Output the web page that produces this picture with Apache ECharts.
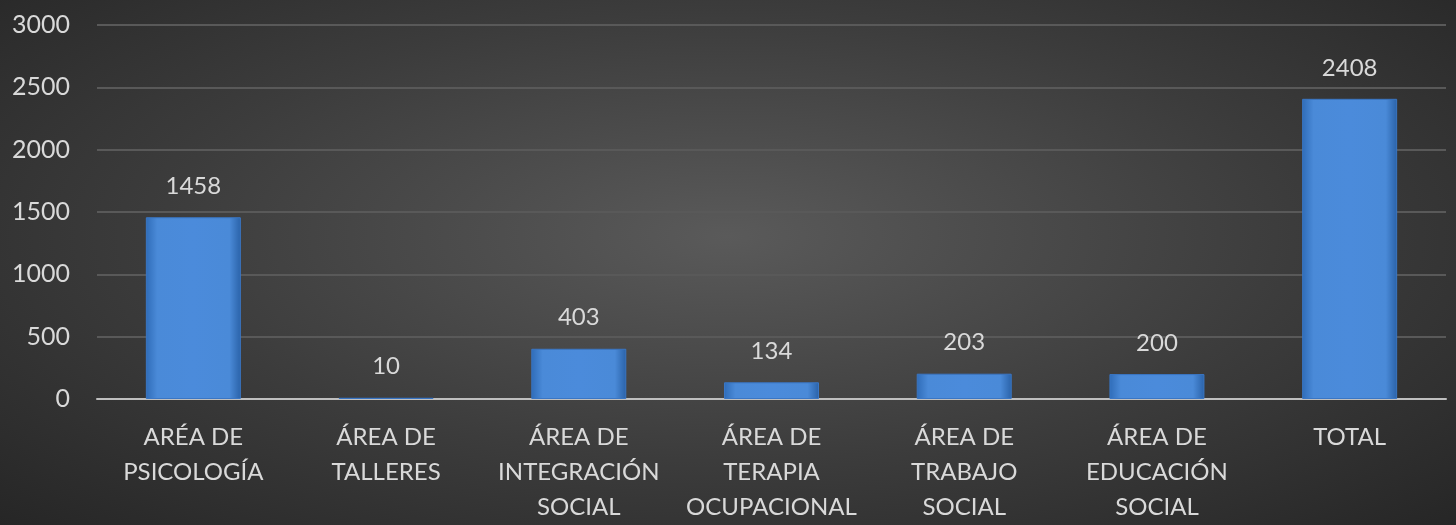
<!DOCTYPE html>
<html>
<head>
<meta charset="utf-8">
<script src="https://cdn.jsdelivr.net/npm/echarts@6/dist/echarts.min.js"></script>
<style>
  html, body { margin: 0; padding: 0; }
  #chart {
    width: 1456px;
    height: 525px;
    background: radial-gradient(ellipse at 50% 45%, #5a5a5a 0%, #3c3c3c 55%, #262626 100%);
  }
</style>
</head>
<body>
<div id="chart"></div>
<script>
  const categories = [
    "ARÉA DE\nPSICOLOGÍA",
    "ÁREA DE\nTALLERES",
    "ÁREA DE\nINTEGRACIÓN\nSOCIAL",
    "ÁREA DE\nTERAPIA\nOCUPACIONAL",
    "ÁREA DE\nTRABAJO\nSOCIAL",
    "ÁREA DE\nEDUCACIÓN\nSOCIAL",
    "TOTAL"
  ];
  const values = [1458, 10, 403, 134, 203, 200, 2408];

  const chart = echarts.init(document.getElementById("chart"));

  const option = {
    backgroundColor: "transparent",
    textStyle: { fontFamily: "Lato" },
    grid: { left: 97, right: 10, top: 25, bottom: 125 },
    xAxis: {
      type: "category",
      data: categories,
      axisLine: { lineStyle: { color: "#bfbfbf", width: 2 } },
      axisTick: { show: false },
      axisLabel: {
        color: "#d9d9d9",
        fontSize: 24,
        lineHeight: 35,
        margin: 21,
        interval: 0
      }
    },
    yAxis: {
      type: "value",
      min: 0,
      max: 3000,
      interval: 500,
      axisLine: { show: false },
      axisTick: { show: false },
      splitLine: { lineStyle: { color: "#595959", width: 2 } },
      axisLabel: {
        color: "#d9d9d9",
        fontSize: 25,
        margin: 27,
        formatter: function (v) { return String(v); }
      }
    },
    series: [
      {
        type: "bar",
        data: values,
        barWidth: 95,
        itemStyle: {
          color: new echarts.graphic.LinearGradient(0, 0, 1, 0, [
            { offset: 0, color: "#2f6cb8" },
            { offset: 0.12, color: "#4a8ad8" },
            { offset: 0.5, color: "#4b8bdb" },
            { offset: 0.88, color: "#4a8ad8" },
            { offset: 1, color: "#2a62a8" }
          ]),
          borderColor: "#3a76c4",
          borderWidth: 1
        },
        label: {
          show: true,
          position: "top",
          distance: 19,
          color: "#d9d9d9",
          fontSize: 24
        }
      }
    ]
  };

  chart.setOption(option);
</script>
</body>
</html>
